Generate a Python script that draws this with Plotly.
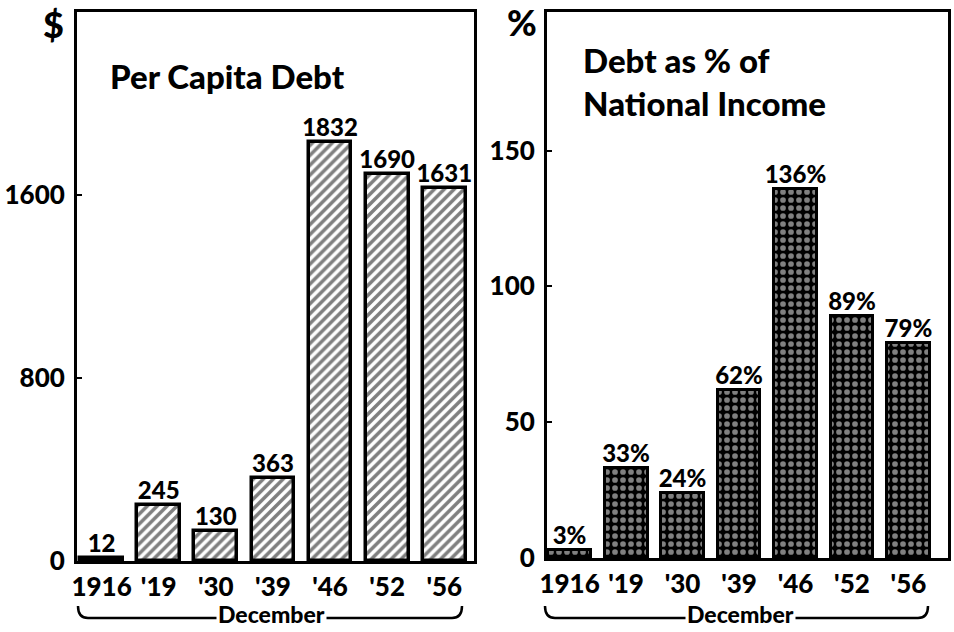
import plotly.graph_objects as go

years = ["1916", "'19", "'30", "'39", "'46", "'52", "'56"]
per_capita = [12, 245, 130, 363, 1832, 1690, 1631]
pct_income = [3, 33, 24, 62, 136, 89, 79]
pct_labels = [f"{v}%" for v in pct_income]

left_ticks = [0, 800, 1600]
right_ticks = [0, 50, 100, 150]

FONT = "'Lato Black', Lato, Inter, 'DejaVu Sans', sans-serif"
W, H = 954, 632

def px_x(p):
    return p / W

def px_y(p):
    return 1 - p / H

fig = go.Figure()

# bars
fig.add_trace(go.Bar(
    x=years, y=per_capita, xaxis="x", yaxis="y", width=0.75,
    marker=dict(color="white", line=dict(color="black", width=3.5),
                pattern=dict(shape="/", fgcolor="black", bgcolor="white", size=7, solidity=0.5)),
    showlegend=False,
))
fig.add_trace(go.Bar(
    x=years, y=pct_income, xaxis="x2", yaxis="y2", width=0.76,
    marker=dict(color="black", line=dict(color="black", width=3),
                pattern=dict(shape=".", fgcolor="white", bgcolor="black", size=8, solidity=0.4)),
    showlegend=False,
))

# value labels
label_font = dict(family=FONT, size=24, color="black", weight=900)
fig.add_trace(go.Scatter(
    x=years, y=per_capita, xaxis="x", yaxis="y", mode="text",
    text=[str(v) for v in per_capita], textposition="top center", cliponaxis=False,
    textfont=label_font, showlegend=False, hoverinfo="skip",
))
fig.add_trace(go.Scatter(
    x=years, y=pct_income, xaxis="x2", yaxis="y2", mode="text",
    text=pct_labels, textposition="top center", cliponaxis=False,
    textfont=label_font, showlegend=False, hoverinfo="skip",
))

axis_common = dict(
    showline=True, linecolor="black", linewidth=3, mirror=True,
    showgrid=False, zeroline=False, automargin=False,
    tickfont=dict(family=FONT, size=26, color="black", weight=900),
)

fig.update_layout(
    width=W, height=H,
    margin=dict(l=0, r=0, t=0, b=0),
    paper_bgcolor="white", plot_bgcolor="white",
    bargap=0,
    xaxis=dict(domain=[px_x(77), px_x(474)], anchor="y", range=[-0.43, 6.52],
               ticks="", ticklabelstandoff=1, **axis_common),
    yaxis=dict(domain=[px_y(561), px_y(12)], anchor="x", range=[0, 2400],
               tickvals=left_ticks, ticks="inside", ticklen=5, tickwidth=2, tickcolor="black",
               ticklabelstandoff=4, **axis_common),
    xaxis2=dict(domain=[px_x(547), px_x(948)], anchor="y2", range=[-0.40, 6.70],
                ticks="", ticklabelstandoff=1, **axis_common),
    yaxis2=dict(domain=[px_y(558), px_y(12)], anchor="x2", range=[0, 201],
                tickvals=right_ticks, ticks="inside", ticklen=5, tickwidth=2, tickcolor="black",
                ticklabelstandoff=4, **axis_common),
)

title_font = dict(family=FONT, size=33, color="black", weight=900)
annotations = [
    dict(text="Per Capita Debt", x=px_x(108), y=px_y(76), xanchor="left", yanchor="middle",
         font=title_font),
    dict(text="Debt as % of<br>National Income", x=px_x(581), y=px_y(81), xanchor="left",
         yanchor="middle", align="left", font=title_font),
    dict(text="$", x=px_x(53), y=px_y(24), xanchor="center", yanchor="middle",
         font=dict(family=FONT, size=36, color="black", weight=900)),
    dict(text="%", x=px_x(522), y=px_y(22), xanchor="center", yanchor="middle",
         font=dict(family=FONT, size=36, color="black", weight=900)),
    dict(text="December", x=px_x(271), y=px_y(614), xanchor="center", yanchor="middle",
         bgcolor="white", font=dict(family=FONT, size=23, color="black", weight=900)),
    dict(text="December", x=px_x(740), y=px_y(614), xanchor="center", yanchor="middle",
         bgcolor="white", font=dict(family=FONT, size=23, color="black", weight=900)),
]
for a in annotations:
    a.update(xref="paper", yref="paper", showarrow=False)
fig.update_layout(annotations=annotations)

# December brackets under the year labels
for x0, x1 in [(78, 462), (545, 928)]:
    fig.add_shape(
        type="path", xref="paper", yref="paper",
        path=(f"M {px_x(x0)},{px_y(606)} Q {px_x(x0)},{px_y(618)} {px_x(x0 + 10)},{px_y(618)} "
              f"L {px_x(x1 - 10)},{px_y(618)} Q {px_x(x1)},{px_y(618)} {px_x(x1)},{px_y(606)}"),
        line=dict(color="black", width=2.5), layer="below",
    )

# drop the default 8px page margin so the figure fills the window
fig.write_html("out.html", config={"displayModeBar": False},
               post_script="document.body.style.margin = '0';")
